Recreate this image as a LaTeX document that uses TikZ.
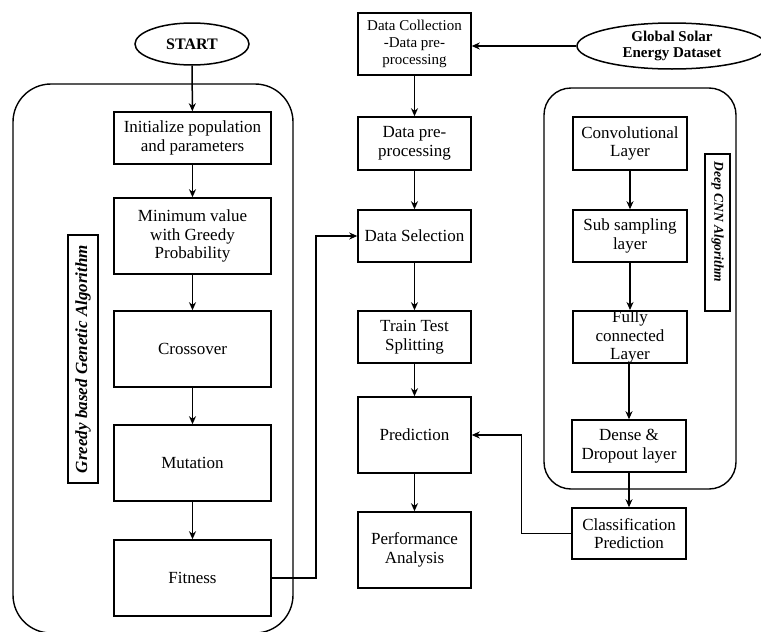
\documentclass[tikz,border=0pt]{standalone}
\usepackage{fontspec}
\setmainfont{Liberation Serif}
\usetikzlibrary{arrows.meta,shapes.geometric}
\begin{document}
\begin{tikzpicture}[x=1pt,y=-1pt,
  every node/.style={inner sep=0pt, align=center},
  box/.style={draw, line width=1.5pt, font=\fontsize{17}{18.5}\selectfont},
  oval/.style={draw, ellipse, line width=1.5pt, font=\fontsize{16}{17.5}\selectfont\bfseries},
  container/.style={draw, line width=1.4pt},
  lbl/.style={draw, line width=1.4pt, font=\bfseries\itshape},
  arr/.style={line width=1.5pt, -{Stealth[length=8pt,width=7pt,inset=2.5pt]}},
  ln/.style={line width=1.5pt}]
\useasboundingbox (0,0) rectangle (761,632);
\clip (0,0) rectangle (761,632);
% containers
\draw[container, rounded corners=38pt] (13,84) rectangle (293,633);
\draw[container, rounded corners=27pt] (544,88) rectangle (736,489);
% labels
\node[lbl, minimum width=248pt, minimum height=30pt, rotate=90, font=\fontsize{17}{18}\selectfont\bfseries\itshape] (galbl) at (83,359) {Greedy based Genetic Algorithm};
\node[lbl, minimum width=157pt, minimum height=25pt, rotate=-90] (cnnlbl) at (717.5,232.5) {};
\node[rotate=-90, font=\fontsize{13.5}{15}\selectfont\bfseries\itshape] (cnntxt) at (717.5,222) {Deep CNN Algorithm};
% left column
\node[oval, minimum width=114pt, minimum height=42pt] (start) at (192,44) {START};
\node[box, minimum width=157pt, minimum height=52pt] (init) at (192.5,138) {Initialize population\\and parameters};
\node[box, minimum width=157pt, minimum height=76pt] (minv) at (192.5,236) {Minimum value\\with Greedy\\Probability};
\node[box, minimum width=157pt, minimum height=76pt] (cross) at (192.5,349) {Crossover};
\node[box, minimum width=157pt, minimum height=76pt] (mut) at (192.5,463) {Mutation};
\node[box, minimum width=157pt, minimum height=76pt] (fit) at (192.5,578) {Fitness};
% middle column
\node[box, minimum width=113pt, minimum height=62pt, font=\fontsize{15}{16.7}\selectfont] (dc) at (414.5,44) {Data Collection\\-Data pre-\\processing};
\node[box, minimum width=113pt, minimum height=53pt] (dp) at (414.5,143.5) {Data pre-\\processing};
\node[box, minimum width=113pt, minimum height=52pt] (ds) at (414.5,236) {Data Selection};
\node[box, minimum width=113pt, minimum height=52pt] (tt) at (414.5,337) {Train Test\\Splitting};
\node[box, minimum width=113pt, minimum height=76pt] (pred) at (414.5,435) {Prediction};
\node[box, minimum width=113pt, minimum height=76pt] (perf) at (414.5,550) {Performance\\Analysis};
% right column
\node[oval, minimum width=190pt, minimum height=46pt, font=\fontsize{15}{16.5}\selectfont\bfseries] (gs) at (672,46) {Global Solar\\Energy Dataset};
\node[box, minimum width=114pt, minimum height=53pt] (conv) at (630,143.5) {Convolutional\\Layer};
\node[box, minimum width=114pt, minimum height=52pt] (sub) at (630,236) {Sub sampling\\layer};
\node[box, minimum width=114pt, minimum height=52pt] (fc) at (630,337) {Fully\\connected\\Layer};
\node[box, minimum width=114pt, minimum height=52pt] (dense) at (629,446) {Dense \&\\Dropout layer};
\node[box, minimum width=114pt, minimum height=51pt] (cls) at (629,533.5) {Classification\\Prediction};
% connectors
\draw[arr] (start) -- (init);
\draw[arr] (init) -- (minv);
\draw[arr] (minv) -- (cross);
\draw[arr] (cross) -- (mut);
\draw[arr] (mut) -- (fit);
\draw[arr] (fit.east) -- ++(44,0) |- (ds.west);
\draw[arr] (gs.west) -- (gs.west -| dc.east);
\draw[arr] (dc) -- (dp);
\draw[arr] (dp) -- (ds);
\draw[arr] (ds) -- (tt);
\draw[arr] (tt) -- (pred);
\draw[arr] (pred) -- (perf);
\draw[arr] (conv) -- (sub);
\draw[arr] (sub) -- (fc);
\draw[arr] (fc.south -| dense.north) -- (dense.north);
\draw[arr] (dense) -- (cls);
\draw[arr] (cls.west) -- ++(-50,0) |- (pred.east);
\end{tikzpicture}
\end{document}
